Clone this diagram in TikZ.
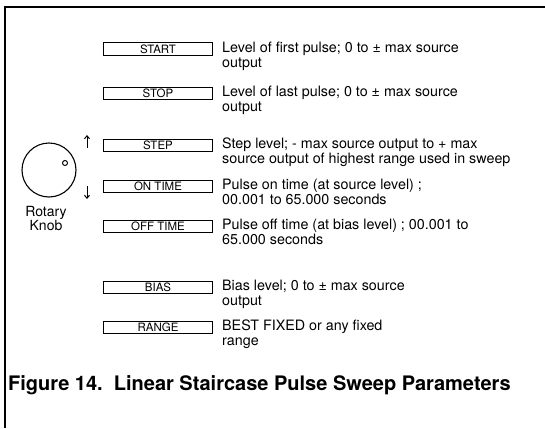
\documentclass[tikz,border=0pt]{standalone}
\usepackage{fontspec}
\setmainfont{TeX Gyre Heros}
\usetikzlibrary{arrows.meta}

\begin{document}
\begin{tikzpicture}[x=1pt, y=-1pt,
  p/.style={draw, line width=1pt, minimum width=109pt, minimum height=12pt, inner sep=0pt, font=\fontsize{11.5}{12}\selectfont},
  d/.style={anchor=north west, inner sep=0pt, align=left, font=\fontsize{14.3}{15}\selectfont}]
  \useasboundingbox (0,0) rectangle (545,428);
  % frame
  \draw[line width=1.6pt] (545,7) -- (5,7) -- (5,428);
  % parameter boxes
  \node[p] (start) at (158,49) {START};
  \node[p] (stop) at (158,93) {STOP};
  \node[p] (step) at (158,145.5) {STEP};
  \node[p] (ontime) at (158,186) {ON TIME};
  \node[p] (offtime) at (158,226) {OFF TIME};
  \node[p] (bias) at (158,287.5) {BIAS};
  \node[p] (range) at (158,327.5) {RANGE};
  % descriptions
  \node[d] (startd) at ([xshift=9pt,yshift=1pt]start.north east) {Level of first pulse; 0 to \textpm\ max source\\output};
  \node[d] (stopd) at ([xshift=9pt,yshift=1pt]stop.north east) {Level of last pulse; 0 to \textpm\ max source\\output};
  \node[d] (stepd) at ([xshift=9pt,yshift=1pt]step.north east) {Step level; - max source output to + max\\source output of highest range used in sweep};
  \node[d] (ontimed) at ([xshift=9pt,yshift=1pt]ontime.north east) {Pulse on time (at source level) ;\\00.001 to 65.000 seconds};
  \node[d] (offtimed) at ([xshift=9pt,yshift=1pt]offtime.north east) {Pulse off time (at bias level) ; 00.001 to\\65.000 seconds};
  \node[d] (biasd) at ([xshift=9pt,yshift=1pt]bias.north east) {Bias level; 0 to \textpm\ max source\\output};
  \node[d] (ranged) at ([xshift=9pt,yshift=1pt]range.north east) {BEST FIXED or any fixed\\range};
  % rotary knob
  \node[circle, draw, line width=1.1pt, minimum size=54pt, inner sep=0pt] (knob) at (49,170) {};
  \node[circle, draw, line width=1pt, minimum size=5pt, inner sep=0pt] (dot) at (65,163) {};
  \node[align=center, inner sep=0pt, font=\fontsize{14}{13.5}\selectfont] (knobl) at (46,218.5) {Rotary\\Knob};
  \coordinate (up1) at (87,148);
  \coordinate (up2) at (87,135);
  \coordinate (dn1) at (87,186);
  \coordinate (dn2) at (87,199);
  \draw[line width=1pt, -{Straight Barb[length=3pt, width=5pt]}] (up1) -- (up2);
  \draw[line width=1pt, -{Straight Barb[length=3pt, width=5pt]}] (dn1) -- (dn2);
  % caption
  \node[anchor=west, inner sep=0pt, font=\bfseries\fontsize{20}{22}\selectfont] (cap) at (8,385) {Figure 14.\ \ Linear Staircase Pulse Sweep Parameters};
\end{tikzpicture}
\end{document}
